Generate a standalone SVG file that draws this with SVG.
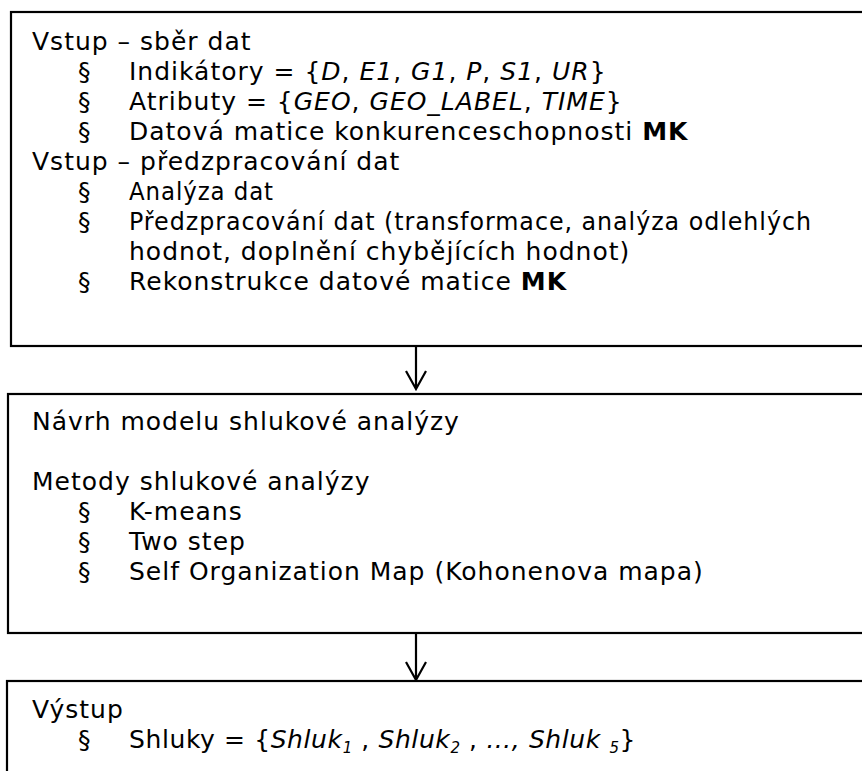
<svg xmlns="http://www.w3.org/2000/svg" width="862" height="771" viewBox="0 0 862 771">
<style>
.box{fill:#fff;stroke:#000;stroke-width:2.2}
.t{font-family:"DejaVu Sans","Verdana",sans-serif;font-size:25px;fill:#000;letter-spacing:1px}
.i{font-style:italic}
.b{font-weight:bold}
.sub{font-size:15px;font-style:italic}
.con{stroke:#000;stroke-width:2.2;fill:none}
</style>
<rect width="862" height="771" fill="#fff"/>
<g id="node-input">
<rect class="box" x="11" y="12" width="900" height="334"/>
<text class="t" x="32" y="50">Vstup – sběr dat</text>
<text class="t" x="78" y="80">§</text>
<text class="t" x="129" y="80">Indikátory = {<tspan class="i">D</tspan>, <tspan class="i">E1</tspan>, <tspan class="i">G1</tspan>, <tspan class="i">P</tspan>, <tspan class="i">S1</tspan>, <tspan class="i">UR</tspan>}</text>
<text class="t" x="78" y="110">§</text>
<text class="t" x="129" y="110">Atributy = {<tspan class="i">GEO</tspan>, <tspan class="i">GEO_LABEL</tspan>, <tspan class="i">TIME</tspan>}</text>
<text class="t" x="78" y="140">§</text>
<text class="t" x="129" y="140">Datová matice konkurenceschopnosti <tspan class="b">MK</tspan></text>
<text class="t" x="32" y="170">Vstup – předzpracování dat</text>
<text class="t" x="78" y="200">§</text>
<text class="t" x="129" y="200" textLength="145" lengthAdjust="spacingAndGlyphs">Analýza dat</text>
<text class="t" x="78" y="230">§</text>
<text class="t" x="129" y="230" textLength="683" lengthAdjust="spacingAndGlyphs">Předzpracování dat (transformace, analýza odlehlých</text>
<text class="t" x="129" y="260">hodnot, doplnění chybějících hodnot)</text>
<text class="t" x="78" y="290">§</text>
<text class="t" x="129" y="290">Rekonstrukce datové matice <tspan class="b">MK</tspan></text>
</g>
<g id="node-model">
<rect class="box" x="8" y="394" width="900" height="239"/>
<text class="t" x="32" y="430">Návrh modelu shlukové analýzy</text>
<text class="t" x="32" y="490">Metody shlukové analýzy</text>
<text class="t" x="78" y="520">§</text>
<text class="t" x="129" y="520">K-means</text>
<text class="t" x="78" y="550">§</text>
<text class="t" x="129" y="550">Two step</text>
<text class="t" x="78" y="580">§</text>
<text class="t" x="129" y="580">Self Organization Map (Kohonenova mapa)</text>
</g>
<g id="node-output">
<rect class="box" x="7" y="681" width="900" height="140"/>
<text class="t" x="32" y="718">Výstup</text>
<text class="t" x="78" y="748">§</text>
<text class="t" x="129" y="748" style="letter-spacing:0.6px">Shluky = {<tspan class="i">Shluk</tspan><tspan class="sub" dy="5">1</tspan><tspan dy="-5"> , </tspan><tspan class="i">Shluk</tspan><tspan class="sub" dy="5">2</tspan><tspan dy="-5"> , </tspan><tspan class="i">…, Shluk </tspan><tspan class="sub" dy="5">5</tspan><tspan dy="-5">}</tspan></text>
</g>
<g id="connectors">
<path class="con" d="M416 346 V389 M406 371 L416 389 L426 371"/>
<path class="con" d="M416 633 V680 M406 662 L416 680 L426 662"/>
</g>
</svg>
